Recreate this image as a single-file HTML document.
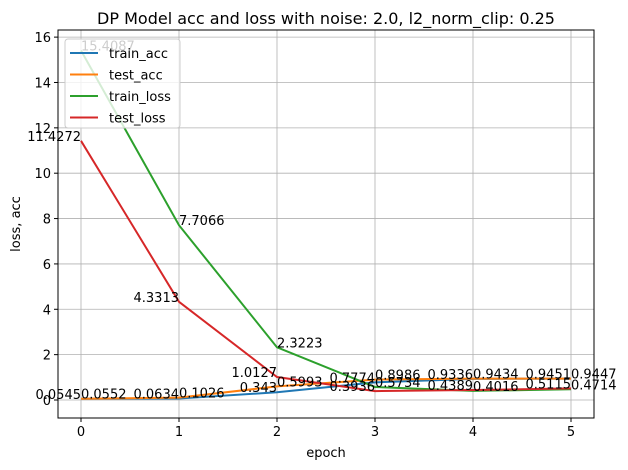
<!DOCTYPE html>
<html><head><meta charset="utf-8"><style>
body{margin:0;background:#fff;}
svg{display:block;font-family:"DejaVu Sans","Liberation Sans",sans-serif;}
</style></head><body>
<svg id="chart" width="628" height="470" viewBox="0 0 628 470" xmlns="http://www.w3.org/2000/svg">
<rect width="628" height="470" fill="#fff"/>
<text x="326" y="24" font-size="16" text-anchor="middle">DP Model acc and loss with noise: 2.0, l2_norm_clip: 0.25</text>
<g id="grid"></g>
<g id="series"></g>
<g id="labels"></g>
<rect x="58" y="30" width="536" height="388" fill="none" stroke="#000" stroke-width="1"/>
<g id="ticks"></g>
<text x="326" y="457" font-size="13" text-anchor="middle">epoch</text>
<text x="20" y="224" font-size="13" text-anchor="middle" transform="rotate(-90 20 224)">loss, acc</text>
<g>
<rect x="65" y="39" width="115" height="89" rx="3" fill="#fff" fill-opacity="0.8" stroke="#ccc"/>
<g id="legend-items"></g>
</g>
</svg>
<script>
const epochs=[0,1,2,3,4,5];
const trainAcc=[0.0545,0.0634,0.343,0.7774,0.9336,0.9451];
const testAcc=[0.0552,0.1026,0.5993,0.8986,0.9434,0.9447];
const trainLoss=[15.4087,7.7066,2.3223,0.5734,0.4016,0.4714];
const testLoss=[11.4272,4.3313,1.0127,0.3936,0.4389,0.5115];
const yTicks=[0,2,4,6,8,10,12,14,16];
const xTicks=[0,1,2,3,4,5];
const NS="http://www.w3.org/2000/svg";
const X=v=>81+v*98;
const Y=v=>400-v*22.68;
function mk(tag,attrs,parent){const e=document.createElementNS(NS,tag);for(const k in attrs)e.setAttribute(k,attrs[k]);parent.appendChild(e);return e;}
const grid=document.getElementById('grid'),ticks=document.getElementById('ticks');
xTicks.forEach(t=>{
 const l=mk('line',{x1:X(t),x2:X(t),y1:30,y2:418,stroke:'#b0b0b0','stroke-width':0.8},grid);
 
 
 mk('line',{x1:X(t),x2:X(t),y1:418,y2:422,stroke:'#000'},ticks);
 const tx=mk('text',{x:X(t),y:436,'font-size':13,'text-anchor':'middle'},ticks);tx.textContent=t;
 
 
});
yTicks.forEach(t=>{
 const l=mk('line',{x1:58,x2:594,y1:Y(t),y2:Y(t),stroke:'#b0b0b0','stroke-width':0.8},grid);
 
 
 mk('line',{x1:54,x2:58,y1:Y(t),y2:Y(t),stroke:'#000'},ticks);
 const tx=mk('text',{x:51,y:Y(t)+5,'font-size':13,'text-anchor':'end'},ticks);tx.textContent=t;
 
 
});
const series=[['train_acc',trainAcc,'#1f77b4','end'],['test_acc',testAcc,'#ff7f0e','start'],['train_loss',trainLoss,'#2ca02c','start'],['test_loss',testLoss,'#d62728','end']];
const sg=document.getElementById('series'),lg=document.getElementById('labels'),li=document.getElementById('legend-items');
series.forEach(([name,vals,c,anchor],i)=>{
 const p=mk('polyline',{points:vals.map((v,j)=>X(epochs[j])+','+Y(v)).join(' '),fill:'none',stroke:c,'stroke-width':2},sg);
 
 
 vals.forEach((v,j)=>{
  const t=mk('text',{x:X(epochs[j]),y:Y(v),'font-size':13,'text-anchor':anchor},lg);t.textContent=v;
  
  
 });
 const y=53+i*21.5;
 const ll=mk('line',{x1:70,x2:98,y1:y,y2:y,stroke:c,'stroke-width':2},li);
 
 
 const lt=mk('text',{x:109,y:y+5,'font-size':13},li);lt.textContent=name;
 
 
});
</script>
</body></html>
